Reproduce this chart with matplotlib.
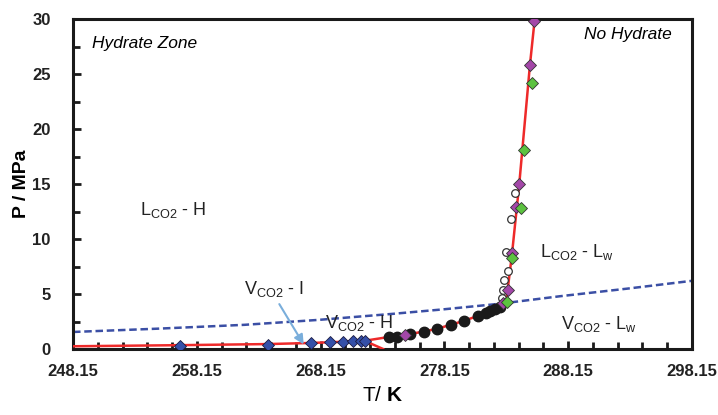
import matplotlib
matplotlib.use('Agg')
import matplotlib.pyplot as plt
from matplotlib.ticker import MultipleLocator

plt.rcParams['font.family'] = ['Liberation Sans', 'DejaVu Sans']
plt.rcParams['mathtext.fontset'] = 'custom'
plt.rcParams['mathtext.rm'] = 'Liberation Sans'
plt.rcParams['mathtext.bf'] = 'Liberation Sans:bold'

# equilibrium curve (red)
line_T = [248.15, 256.8, 263.9, 267.4, 270.0, 271.7, 273.7, 275.4, 277.5, 279.7,
          281.5, 282.6, 283.15, 283.6, 284.2, 285.06, 285.45]
line_P = [0.25, 0.35, 0.45, 0.55, 0.66, 0.75, 1.1, 1.36, 1.82, 2.55,
          3.27, 3.9, 4.35, 8.5, 15.0, 25.8, 30.0]
branch_T = [271.7, 273.2]
branch_P = [0.75, 0.0]

# CO2 vapour pressure (blue dashed)
vap_T = [248.15, 255.0, 262.0, 268.0, 274.0, 278.0, 282.5, 287.5, 293.0, 298.15]
vap_P = [1.55, 1.85, 2.2, 2.65, 3.2, 3.6, 4.1, 4.8, 5.5, 6.2]

# data sets
blue_T = [256.8, 263.9, 267.4, 268.9, 270.0, 270.8, 271.4, 271.7]
blue_P = [0.27, 0.36, 0.55, 0.61, 0.66, 0.72, 0.72, 0.75]

black_T = [273.67, 274.32, 275.37, 276.5, 277.55, 278.68, 279.73, 280.86,
           281.51, 281.83, 282.24, 282.64]
black_P = [1.09, 1.09, 1.36, 1.55, 1.82, 2.18, 2.55, 3.0, 3.27, 3.45, 3.64, 3.82]

open_T = [283.85, 283.5, 283.13, 283.31, 282.96, 282.91, 282.78]
open_P = [14.15, 11.8, 8.85, 7.12, 6.27, 5.36, 4.6]

purple_T = [285.41, 285.06, 284.2, 283.93, 283.59, 283.26, 282.86, 274.97]
purple_P = [29.85, 25.82, 14.99, 12.94, 8.75, 5.36, 4.21, 1.27]

green_T = [285.2, 284.6, 284.31, 283.59, 283.23]
green_P = [24.2, 18.1, 12.85, 8.25, 4.3]

xtick_labels = ['248.15', '258.15', '268.15', '278.15', '288.15', '298.15']

fig = plt.figure(figsize=(7.18, 4.15), dpi=100)
ax = fig.add_axes([0.1017, 0.159, 0.862, 0.795])

ax.plot(vap_T, vap_P, color='#3b4fa5', lw=1.8, ls=(0, (3, 1.5)), zorder=2)
ax.plot(line_T, line_P, color='#ee2a2a', lw=1.8, zorder=3)
ax.plot(branch_T, branch_P, color='#ee2a2a', lw=1.8, zorder=3)

ax.plot(blue_T, blue_P, 'D', ms=6, mfc='#3550a8', mec='#1a1a40', mew=0.6, ls='none', zorder=5)
ax.plot(black_T, black_P, 'o', ms=7.5, mfc='#1a1a1a', mec='#1a1a1a', ls='none', zorder=5)
ax.plot(open_T, open_P, 'o', ms=5.5, mfc='white', mec='#333333', mew=0.9, ls='none', zorder=4)
ax.plot(purple_T, purple_P, 'D', ms=6, mfc='#a347a8', mec='#333333', mew=0.6, ls='none', zorder=6)
ax.plot(green_T, green_P, 'D', ms=6, mfc='#5cc240', mec='#333333', mew=0.6, ls='none', zorder=6)

ax.annotate('', xy=(266.9, 0.2), xytext=(264.7, 4.3),
            arrowprops=dict(arrowstyle='-|>', color='#7aaedb', lw=1.5, mutation_scale=14),
            zorder=7)

ax.text(249.7, 27.8, 'Hydrate Zone', fontsize=12.5, style='italic', va='center', ha='left')
ax.text(296.5, 28.6, 'No Hydrate', fontsize=12.5, style='italic', va='center', ha='right')
ax.text(253.6, 12.6, r'L$_{\mathregular{CO2}}$ - H', fontsize=13, va='center', ha='left', color='#222222')
ax.text(262.0, 5.5, r'V$_{\mathregular{CO2}}$ - I', fontsize=13, va='center', ha='left', color='#222222')
ax.text(268.5, 2.4, r'V$_{\mathregular{CO2}}$ - H', fontsize=13, va='center', ha='left', color='#222222')
ax.text(285.9, 8.8, r'L$_{\mathregular{CO2}}$ - L$_{\mathregular{w}}$', fontsize=13, va='center', ha='left', color='#222222')
ax.text(287.6, 2.3, r'V$_{\mathregular{CO2}}$ - L$_{\mathregular{w}}$', fontsize=13, va='center', ha='left', color='#222222')

ax.set_xlim(248.15, 298.15)
ax.set_ylim(0, 30)
ax.set_xticks([248.15, 258.15, 268.15, 278.15, 288.15, 298.15])
ax.set_xticklabels(xtick_labels)
ax.set_xticks([248.15 + 2 * i for i in range(1, 25) if i % 5 != 0], minor=True)
ax.yaxis.set_major_locator(MultipleLocator(5))
ax.yaxis.set_minor_locator(MultipleLocator(2.5))

ax.tick_params(which='both', direction='in', width=2, color='#1a1a1a', labelsize=12)
ax.tick_params(which='major', length=6)
ax.tick_params(which='minor', length=5)
ax.tick_params(axis='x', which='major', pad=11)
ax.tick_params(axis='y', which='major', pad=16)
for lab in ax.get_xticklabels() + ax.get_yticklabels():
    lab.set_fontweight('bold')
    lab.set_color('#222222')
for s in ax.spines.values():
    s.set_linewidth(2.2)
    s.set_color('#1a1a1a')

ax.set_ylabel('P / MPa', fontsize=14, fontweight='bold', labelpad=2)
ax.set_xlabel(r'T/ $\mathbf{K}$', fontsize=15, labelpad=5)

fig.savefig('out.png', dpi=100)
